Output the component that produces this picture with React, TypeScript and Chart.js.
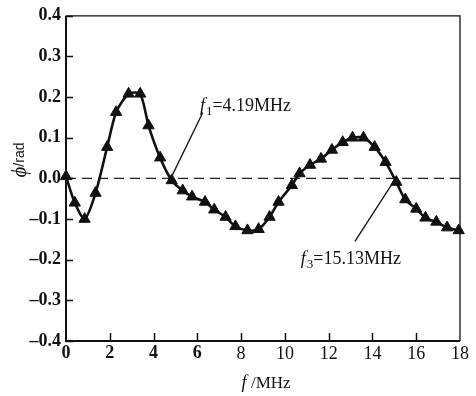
import React, { useEffect, useRef } from 'react';
import { Chart, registerables } from 'chart.js';
Chart.register(...registerables);

const freqMHz = [0, 0.4, 0.85, 1.35, 1.88, 2.29, 2.86, 3.39, 3.77, 4.3, 4.83, 5.33, 5.76, 6.35, 6.77, 7.29, 7.74, 8.29, 8.8, 9.3, 9.71, 10.32, 10.67, 11.15, 11.65, 12.15, 12.64, 13.09, 13.59, 14.1, 14.6, 15.09, 15.5, 16.0, 16.42, 16.92, 17.41, 17.94];
const phaseRad = [0.005, -0.06, -0.10, -0.036, 0.077, 0.163, 0.208, 0.208, 0.13, 0.051, -0.005, -0.03, -0.045, -0.058, -0.077, -0.095, -0.118, -0.128, -0.125, -0.095, -0.058, -0.017, 0.012, 0.033, 0.048, 0.07, 0.089, 0.1, 0.1, 0.077, 0.04, -0.009, -0.052, -0.075, -0.097, -0.107, -0.121, -0.128];

const zeroLineX = [0, 18];
const zeroLineY = [0, 0];

const leader1X = [4.83, 6.25];
const leader1Y = [0.005, 0.162];
const leader3X = [15.0, 13.2];
const leader3Y = [-0.005, -0.155];

const label1 = { x: 6.12, y: 0.167, sub: '1', rest: '=4.19MHz' };
const label3 = { x: 10.73, y: -0.211, sub: '3', rest: '=15.13MHz' };

const xTicks = [0, 2, 4, 6, 8, 10, 12, 14, 16, 18];
const yTicks = [-0.4, -0.3, -0.2, -0.1, 0, 0.1, 0.2, 0.3, 0.4];

const SERIF = '"Liberation Serif", "DejaVu Serif", serif';
const SANS = '"Liberation Sans", Arial, sans-serif';

const zip = (xs: number[], ys: number[]) => xs.map((x, i) => ({ x, y: ys[i] }));

export default function App() {
  const ref = useRef<HTMLCanvasElement | null>(null);
  useEffect(() => {
    document.body.style.margin = '0';
    const canvas = ref.current;
    if (!canvas) return;

    const overlay = {
      id: 'overlay',
      afterDraw(chart: any) {
        const { ctx, chartArea: a, scales } = chart;
        const xs = scales.x, ys = scales.y;
        ctx.save();
        ctx.strokeStyle = '#111';
        ctx.fillStyle = '#111';
        // frame
        ctx.lineWidth = 2;
        ctx.beginPath();
        ctx.moveTo(a.left, a.top);
        ctx.lineTo(a.left, a.bottom);
        ctx.lineTo(a.right, a.bottom);
        ctx.stroke();
        ctx.lineWidth = 1.3;
        ctx.beginPath();
        ctx.moveTo(a.left, a.top);
        ctx.lineTo(a.right, a.top);
        ctx.lineTo(a.right, a.bottom);
        ctx.stroke();
        // inward ticks
        ctx.lineWidth = 1.5;
        ctx.beginPath();
        yTicks.forEach((v) => {
          const py = Math.round(ys.getPixelForValue(v)) + 0.5;
          ctx.moveTo(a.left, py);
          ctx.lineTo(a.left + 7, py);
        });
        xTicks.forEach((v) => {
          if (v === 0 || v === 18) return;
          const px = Math.round(xs.getPixelForValue(v)) + 0.5;
          ctx.moveTo(px, a.bottom);
          ctx.lineTo(px, a.bottom - 8);
        });
        ctx.stroke();

        // annotation labels
        const drawLabel = (l: any) => {
          let px = xs.getPixelForValue(l.x);
          const py = ys.getPixelForValue(l.y);
          ctx.textBaseline = 'alphabetic';
          ctx.textAlign = 'left';
          ctx.font = `italic 18px ${SERIF}`;
          ctx.fillText('f', px, py);
          px += ctx.measureText('f').width + 1;
          ctx.font = `13px ${SERIF}`;
          ctx.fillText(l.sub, px, py + 4);
          px += ctx.measureText(l.sub).width;
          ctx.font = `18px ${SERIF}`;
          ctx.fillText(l.rest, px, py);
        };
        drawLabel(label1);
        drawLabel(label3);

        // x title
        ctx.font = `italic 18px ${SERIF}`;
        const fW = ctx.measureText('f ').width;
        ctx.font = `17px ${SERIF}`;
        const rW = ctx.measureText('/MHz').width;
        const cx = (a.left + a.right) / 2 + 3;
        let sx = cx - (fW + rW) / 2;
        const by = 388;
        ctx.font = `italic 18px ${SERIF}`;
        ctx.fillText('f', sx, by);
        sx += fW;
        ctx.font = `17px ${SERIF}`;
        ctx.fillText('/MHz', sx, by);

        // y title (rotated)
        ctx.translate(20, 160);
        ctx.rotate(-Math.PI / 2);
        ctx.font = `italic 21px ${SERIF}`;
        const pW = ctx.measureText('ϕ').width;
        ctx.font = `14px ${SANS}`;
        const radW = ctx.measureText('/rad').width;
        let tx = -(pW + radW) / 2;
        ctx.textBaseline = 'middle';
        ctx.font = `italic 21px ${SERIF}`;
        ctx.fillText('ϕ', tx, 0);
        tx += pW;
        ctx.font = `14px ${SANS}`;
        ctx.fillText('/rad', tx, 0);
        ctx.restore();
      },
    };

    const chart = new Chart(canvas, {
      type: 'line',
      data: {
        datasets: [
          {
            data: zip(freqMHz, phaseRad),
            borderColor: '#111',
            backgroundColor: '#111',
            borderWidth: 2.6,
            tension: 0.25,
            pointStyle: 'triangle',
            pointRadius: 6.5,
            pointBorderWidth: 1,
            clip: false as any,
          },
          {
            data: zip(zeroLineX, zeroLineY),
            borderColor: '#222',
            borderWidth: 1.4,
            borderDash: [10, 6],
            pointRadius: 0,
          },
          {
            data: zip(leader1X, leader1Y),
            borderColor: '#111',
            borderWidth: 1.3,
            pointRadius: 0,
          },
          {
            data: zip(leader3X, leader3Y),
            borderColor: '#111',
            borderWidth: 1.3,
            pointRadius: 0,
          },
        ],
      },
      options: {
        animation: false,
        responsive: true,
        maintainAspectRatio: false,
        layout: { padding: { top: 15, right: 16, left: 0, bottom: 0 } },
        plugins: { legend: { display: false }, tooltip: { enabled: false } },
        scales: {
          x: {
            type: 'linear',
            min: 0,
            max: 18,
            afterFit: (s: any) => { s.height = 55; },
            afterBuildTicks: (s: any) => { s.ticks = xTicks.map((v) => ({ value: v })); },
            grid: { display: false, drawTicks: false },
            border: { display: false },
            ticks: {
              padding: 2,
              color: '#111',
              maxRotation: 0,
              font: (c: any) => ({ family: SERIF, size: 18, weight: c.tick && c.tick.value <= 6 ? 'bold' : 'normal' }),
              callback: (v: any) => String(v),
            },
          },
          y: {
            type: 'linear',
            min: -0.4,
            max: 0.4,
            afterFit: (s: any) => { s.width = 66; },
            afterBuildTicks: (s: any) => { s.ticks = yTicks.map((v) => ({ value: v })); },
            grid: { display: false, drawTicks: false },
            border: { display: false },
            ticks: {
              padding: 5,
              color: '#111',
              font: { family: SERIF, size: 18, weight: 'bold' },
              callback: (v: any) => {
                const n = Number(v);
                const s = Math.abs(n).toFixed(1);
                return n < -1e-9 ? '–' + s : s;
              },
            },
          },
        },
      },
      plugins: [overlay],
    });
    return () => chart.destroy();
  }, []);

  return (
    <div style={{ width: 476, height: 396, position: 'relative', background: '#fff' }}>
      <canvas ref={ref} />
    </div>
  );
}
